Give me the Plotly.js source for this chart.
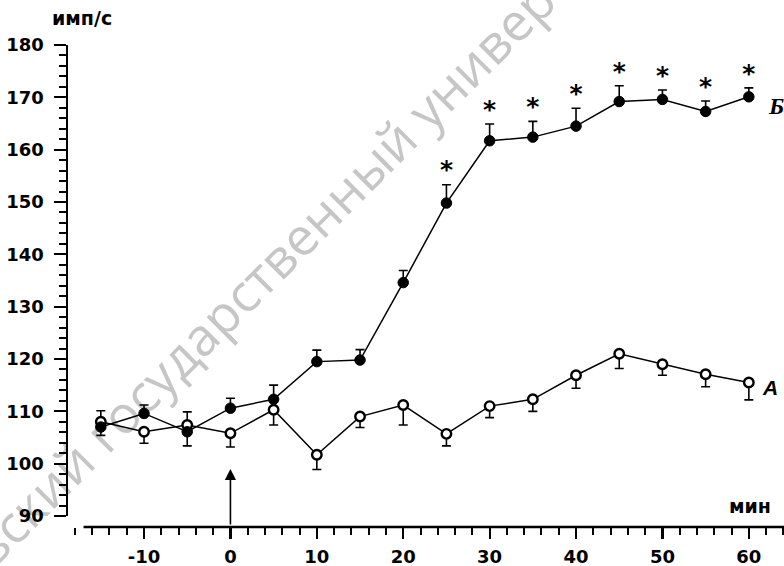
<!DOCTYPE html>
<html>
<head>
<meta charset="utf-8">
<script src="https://cdn.plot.ly/plotly-3.0.1.min.js"></script>
<style>html,body{margin:0;padding:0;background:#fff;}#chart{width:784px;height:566px;}</style>
</head>
<body>
<div id="chart"></div>
<script>
// Time, min
const minutes = [-15, -10, -5, 0, 5, 10, 15, 20, 25, 30, 35, 40, 45, 50, 55, 60];
// Series Б (filled circles)
const seriesB = [107.0, 109.6, 106.1, 110.6, 112.3, 119.5, 119.8, 134.6, 149.8, 161.7, 162.4, 164.5, 169.2, 169.6, 167.3, 170.1];
const seriesBErrUp = [0, 1.6, 0, 1.9, 2.7, 2.2, 2.0, 2.3, 3.5, 3.2, 3.0, 3.4, 3.0, 1.8, 2.0, 1.7];
const seriesBErrDown = [1.6, 0, 2.7, 0, 0, 0, 0, 0, 0, 0, 0, 0, 0, 0, 0, 0];
// Significance marks for Б
const seriesBMarks = ['', '', '', '', '', '', '', '', '*', '*', '*', '*', '*', '*', '*', '*'];
// Series A (open circles)
const seriesA = [108.0, 106.1, 107.4, 105.8, 110.3, 101.7, 109.0, 111.2, 105.7, 111.0, 112.3, 116.9, 121.0, 119.0, 117.1, 115.5];
const seriesAErrUp = [2.1, 0, 2.5, 0, 0, 0, 0, 0, 0, 0, 0, 0, 0, 0, 0, 0];
const seriesAErrDown = [0, 2.2, 0, 2.6, 2.9, 2.8, 2.1, 3.8, 2.3, 2.2, 2.3, 2.5, 2.8, 2.1, 2.4, 3.3];

const yTicks = [90, 100, 110, 120, 130, 140, 150, 160, 170, 180];
const xTicks = [-10, 0, 10, 20, 30, 40, 50, 60];

const markTop = seriesB.map((v, i) => v + seriesBErrUp[i]);

const traceA = {
  x: minutes, y: seriesA, type: 'scatter', mode: 'lines+markers',
  line: {color: '#000', width: 1.5},
  marker: {symbol: 'circle', size: 9.5, color: '#fff', line: {color: '#000', width: 2.4}},
  error_y: {type: 'data', symmetric: false, array: seriesAErrUp, arrayminus: seriesAErrDown,
            color: '#000', thickness: 1.6, width: 4.5},
  cliponaxis: false, showlegend: false
};
const traceB = {
  x: minutes, y: seriesB, type: 'scatter', mode: 'lines+markers',
  line: {color: '#000', width: 1.5},
  marker: {symbol: 'circle', size: 10.5, color: '#000', line: {color: '#000', width: 1}},
  error_y: {type: 'data', symmetric: false, array: seriesBErrUp, arrayminus: seriesBErrDown,
            color: '#000', thickness: 1.6, width: 4.5},
  cliponaxis: false, showlegend: false
};
const traceMarks = {
  x: minutes, y: markTop, type: 'scatter', mode: 'text', text: seriesBMarks,
  textposition: 'top center',
  textfont: {family: 'DejaVu Sans', size: 25, color: '#000', weight: 'bold'},
  cliponaxis: false, showlegend: false, hoverinfo: 'skip'
};

const tickFont = {family: 'DejaVu Sans', size: 18, color: '#000', weight: 'bold'};

const layout = {
  width: 784, height: 566,
  margin: {l: 68, r: 0, t: 45, b: 39},
  paper_bgcolor: '#fff', plot_bgcolor: 'rgba(0,0,0,0)',
  showlegend: false,
  xaxis: {
    range: [-18.8, 64.07], domain: [0, 1], anchor: 'free', position: 0,
    tickmode: 'array', tickvals: xTicks, ticktext: xTicks.map(String),
    ticks: 'outside', ticklen: 11, tickwidth: 2.2, tickcolor: '#000',
    minor: {dtick: 2, tick0: 0, ticks: 'outside', ticklen: 7, tickwidth: 2, tickcolor: '#000'},
    showline: false, showgrid: false, zeroline: false,
    tickfont: tickFont, ticklabelstandoff: 2
  },
  yaxis: {
    range: [90, 180], domain: [0.0228, 1], anchor: 'x',
    tickmode: 'array', tickvals: yTicks, ticktext: yTicks.map(String),
    ticks: 'outside', ticklen: 12, tickwidth: 2.2, tickcolor: '#000',
    minor: {dtick: 2, tick0: 0, ticks: 'outside', ticklen: 7, tickwidth: 2, tickcolor: '#000'},
    showline: true, linewidth: 2.5, linecolor: '#000',
    showgrid: false, zeroline: false,
    tickfont: tickFont, ticklabelstandoff: 6
  },
  shapes: [
    {type: 'line', xref: 'x', yref: 'paper', x0: -17, x1: 64.07, y0: 0, y1: 0,
     line: {color: '#000', width: 2.6}},
    {type: 'line', xref: 'paper', yref: 'paper', x0: 0.1145, y0: 0.2842, x1: 0.3939, y1: 0.6992,
     layer: 'below', line: {color: 'rgba(0,0,0,0)', width: 0},
     label: {text: 'Саратовский государственный университет', textangle: -45,
             textposition: 'middle', xanchor: 'center', yanchor: 'middle',
             font: {family: 'Open Sans', size: 52, color: '#c6c6c6'}}}
  ],
  annotations: [
    {xref: 'paper', yref: 'paper', x: -0.025, y: 1.03, xanchor: 'left', yanchor: 'bottom',
     text: 'имп/с', showarrow: false,
     font: {family: 'DejaVu Sans', size: 19, color: '#000', weight: 'bold'}},
    {xref: 'paper', yref: 'paper', x: 0.985, y: 0.0436, xanchor: 'right', yanchor: 'middle',
     text: 'мин', showarrow: false,
     font: {family: 'DejaVu Sans', size: 19, color: '#000', weight: 'bold'}},
    {xref: 'x', yref: 'y', x: 63.1, y: 168.3, xanchor: 'center', yanchor: 'middle',
     text: '<i>Б</i>', showarrow: false,
     font: {family: 'Liberation Serif', size: 24, color: '#000', weight: 'bold'}},
    {xref: 'x', yref: 'y', x: 62.5, y: 114.6, xanchor: 'center', yanchor: 'middle',
     text: '<i>A</i>', showarrow: false,
     font: {family: 'Liberation Sans', size: 21, color: '#000', weight: 'bold'}},
    {xref: 'x', yref: 'y', x: 0, y: 99, axref: 'pixel', ayref: 'pixel', ax: 0, ay: 57,
     text: '', showarrow: true, arrowhead: 2, arrowsize: 1.4, arrowwidth: 1.6, arrowcolor: '#000'}
  ]
};

Plotly.newPlot('chart', [traceA, traceB, traceMarks], layout, {staticPlot: true});
</script>
</body>
</html>
